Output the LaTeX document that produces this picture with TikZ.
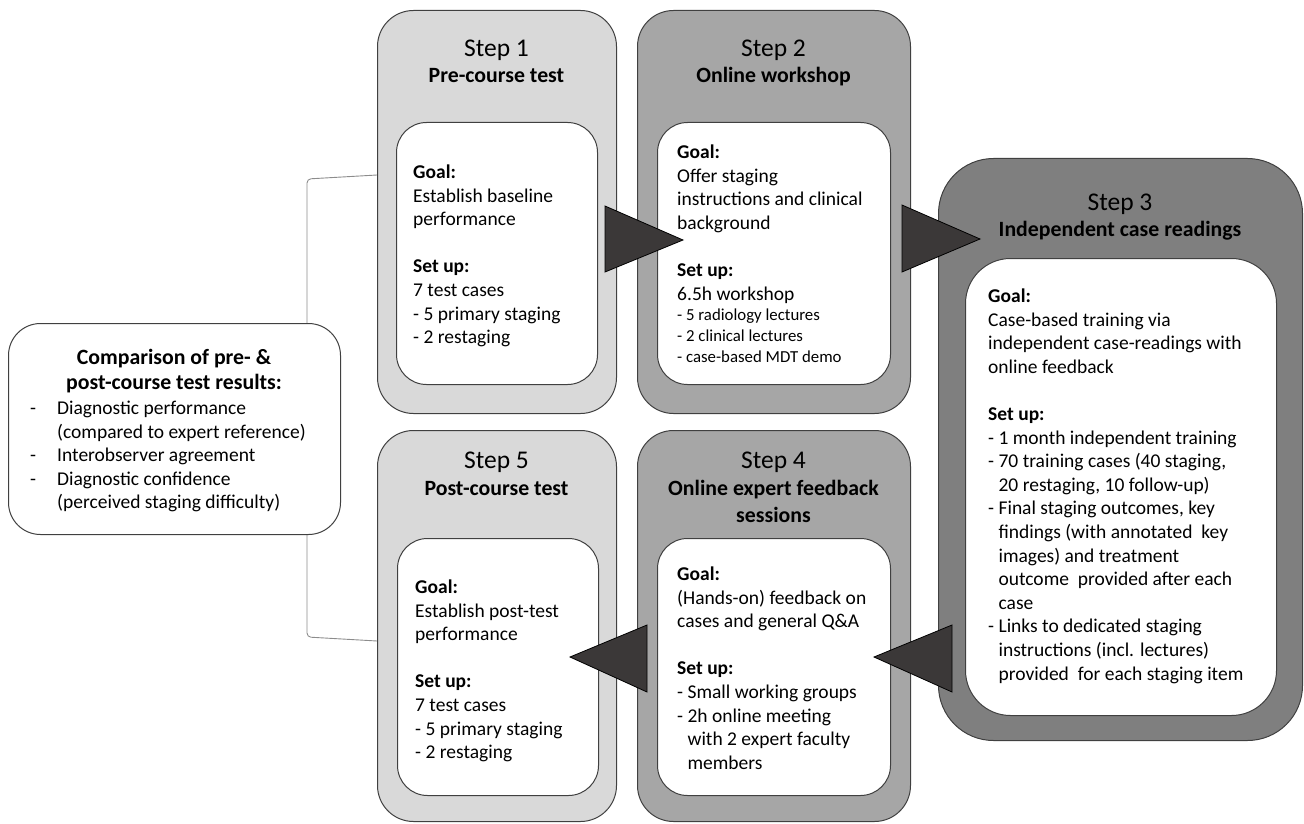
\documentclass[tikz,border=0pt]{standalone}
\usepackage{fontspec}
\setmainfont{Carlito}
\newcommand\bodyfont{\fontsize{19.5}{23.6}\selectfont}
\newcommand\smallbodyfont{\fontsize{16.8}{21}\selectfont}
\newcommand\stepfont{\fontsize{25.5}{30}\selectfont}
\newcommand\namefont{\fontsize{21.8}{27}\selectfont\bfseries}
\newcommand\headfont{\fontsize{21.8}{25}\selectfont\bfseries}
\definecolor{lightbox}{HTML}{D9D9D9}
\definecolor{midbox}{HTML}{A6A6A6}
\definecolor{darkbox}{HTML}{7F7F7F}
\definecolor{edge}{HTML}{404040}
\definecolor{tri}{HTML}{3B3838}
\definecolor{brk}{HTML}{8C8C8C}
\begin{document}
\begin{tikzpicture}[x=1pt,y=-1pt,
  outer/.style={draw=edge, line width=1pt, rounded corners=36pt, anchor=north west, inner sep=0pt},
  inner/.style={draw=edge, fill=white, line width=1pt, rounded corners=30pt, anchor=north west, inner sep=0pt},
  tribox/.style={fill=tri, draw=black, line width=0.8pt, line join=miter},
  body/.style={anchor=north west, inner sep=0pt, align=left, font=\bodyfont},
  smallbody/.style={anchor=north west, inner sep=0pt, align=left, font=\smallbodyfont},
  stepnum/.style={anchor=base, inner sep=0pt, font=\stepfont},
  stepname/.style={anchor=base, inner sep=0pt, font=\namefont},
  bracket/.style={draw=brk, line width=0.9pt, rounded corners=4pt}]
\useasboundingbox (0,0) rectangle (1304,824);

% bracket linking pre- and post-course tests
\coordinate (bt) at (377,175);
\coordinate (bb) at (377,641);
\draw[bracket] (bt) -- (307,179) -- (307,637) -- (bb);

% comparison box
\node[draw=edge, fill=white, line width=1pt, rounded corners=32pt, anchor=north west, inner sep=0pt,
      minimum width=332pt, minimum height=211pt] (cmp) at (8,323) {};
\node[anchor=north, inner sep=0pt, align=center, font=\headfont] (cmphead) at (174,346.5)
  {\strut Comparison of pre- \&\\post-course test results:};
\node[body] (cmpitems) at (30,397.8)
  {\strut\makebox[27pt][l]{-}Diagnostic performance\\
   \hspace*{27pt}(compared to expert reference)\\
   \makebox[27pt][l]{-}Interobserver agreement\\
   \makebox[27pt][l]{-}Diagnostic confidence\\
   \hspace*{27pt}(perceived staging difficulty)};

% outer step boxes
\node[outer, fill=lightbox, minimum width=239pt, minimum height=403pt] (s1) at (377,10) {};
\node[outer, fill=midbox, minimum width=273pt, minimum height=403pt] (s2) at (637,10) {};
\node[outer, fill=darkbox, rounded corners=55pt, minimum width=364pt, minimum height=582pt] (s3) at (938,158) {};
\node[outer, fill=midbox, minimum width=273pt, minimum height=391pt] (s4) at (637,430) {};
\node[outer, fill=lightbox, minimum width=239pt, minimum height=391pt] (s5) at (377,430) {};

% inner boxes
\node[inner, minimum width=201pt, minimum height=262pt] (i1) at (396,122) {};
\node[inner, minimum width=233pt, minimum height=262pt] (i2) at (657,122) {};
\node[inner, rounded corners=45pt, minimum width=311pt, minimum height=457pt] (i3) at (965,258) {};
\node[inner, minimum width=233pt, minimum height=257pt] (i4) at (657,538) {};
\node[inner, minimum width=201pt, minimum height=257pt] (i5) at (397,538) {};

% titles
\node[stepnum] (t1) at (496.5,57) {Step 1};
\node[stepname] (n1) at (496.5,83) {Pre-course test};
\node[stepnum] (t2) at (773.5,57) {Step 2};
\node[stepname] (n2) at (773.5,83) {Online workshop};
\node[stepnum] (t3) at (1120,210) {Step 3};
\node[stepname] (n3) at (1120,236) {Independent case readings};
\node[stepnum] (t4) at (773.5,468) {Step 4};
\node[stepname] (n4a) at (773.5,495) {Online expert feedback};
\node[stepname] (n4b) at (773.5,522) {sessions};
\node[stepnum] (t5) at (496.5,468) {Step 5};
\node[stepname] (n5) at (496.5,495) {Post-course test};

% body texts
\node[body] (b1) at (413,161.8)
  {\strut\textbf{Goal:}\\Establish baseline\\performance\\[23.6pt]
   \textbf{Set up:}\\7 test cases\\- 5 primary staging\\- 2 restaging};
\node[body] (b2) at (677,141.8)
  {\strut\textbf{Goal:}\\Offer staging\\instructions and clinical\\background\\[23.6pt]
   \textbf{Set up:}\\6.5h workshop};
\node[smallbody] (b2s) at (677,305.7)
  {\strut- 5 radiology lectures\\- 2 clinical lectures\\- case-based MDT demo};
\node[body] (b3) at (988,285.8)
  {\strut\textbf{Goal:}\\Case-based training via\\independent case-readings with\\online feedback\\[23.6pt]
   \textbf{Set up:}\\- 1 month independent training\\- 70 training cases (40 staging,\\
   \phantom{- }20 restaging, 10 follow-up)\\- Final staging outcomes, key\\
   \phantom{- }findings (with annotated\ \ key\\\phantom{- }images) and treatment\\
   \phantom{- }outcome\ \ provided after each\\\phantom{- }case\\
   - Links to dedicated staging\\\phantom{- }instructions (incl. lectures)\\
   \phantom{- }provided\ \ for each staging item};
\node[body] (b4) at (677,563.8)
  {\strut\textbf{Goal:}\\(Hands-on) feedback on\\cases and general Q\&A\\[23.6pt]
   \textbf{Set up:}\\- Small working groups\\- 2h online meeting\\
   \phantom{- }with 2 expert faculty\\\phantom{- }members};
\node[body] (b5) at (415,576.8)
  {\strut\textbf{Goal:}\\Establish post-test\\performance\\[23.6pt]
   \textbf{Set up:}\\7 test cases\\- 5 primary staging\\- 2 restaging};

% flow triangles
\draw[tribox] (605,206) -- (605,272) -- (683,240) -- cycle;
\draw[tribox] (902,205) -- (902,272) -- (980,239) -- cycle;
\draw[tribox] (952,625) -- (952,692) -- (874,657) -- cycle;
\draw[tribox] (647,625) -- (647,692) -- (570,657) -- cycle;
\end{tikzpicture}
\end{document}
